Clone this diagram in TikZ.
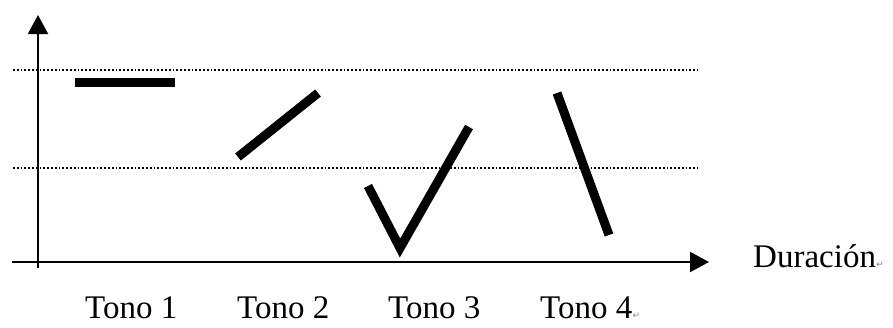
\documentclass[tikz,border=0pt]{standalone}
\usepackage{fontspec}
\setmainfont{Liberation Serif}
\newfontfamily\symfont{DejaVu Sans}
\usetikzlibrary{arrows.meta}
\begin{document}
\begin{tikzpicture}[x=1pt,y=-1pt,
  axis/.style={line width=2.2pt,-{Triangle[length=19pt,width=20pt]}},
  guide/.style={line width=1.8pt,dash pattern=on 1.8pt off 2pt},
  tone/.style={line width=9pt,line cap=butt,line join=miter},
  lbl/.style={font=\fontsize{33}{36}\selectfont,inner sep=0pt,anchor=base west},
  pmark/.style={font=\symfont\fontsize{9}{10}\selectfont,text=gray,inner sep=0pt,anchor=base west}]
\useasboundingbox (0,0) rectangle (893,327);
% guides
\coordinate (g1a) at (13,70);  \coordinate (g1b) at (698,70);
\coordinate (g2a) at (13,168); \coordinate (g2b) at (698,168);
\draw[guide] (g1a) -- (g1b);
\draw[guide] (g2a) -- (g2b);
% axes
\coordinate (ybot) at (38,268); \coordinate (ytop) at (38,15);
\coordinate (xl) at (12,262);   \coordinate (xr) at (709,262);
\draw[axis] (ybot) -- (ytop);
\draw[axis] (xl) -- (xr);
% tones
\coordinate (t1a) at (75,82);   \coordinate (t1b) at (175,82);
\coordinate (t2a) at (238,157); \coordinate (t2b) at (318,93);
\coordinate (t3a) at (368,186); \coordinate (t3m) at (400,248); \coordinate (t3b) at (469,127);
\coordinate (t4a) at (557,93);  \coordinate (t4b) at (609,235);
\draw[tone] (t1a) -- (t1b);
\draw[tone] (t2a) -- (t2b);
\draw[tone] (t3a) -- (t3m) -- (t3b);
\draw[tone] (t4a) -- (t4b);
% labels
\node[lbl] (dur) at (753,267) {Duración};
\node[pmark] (pm1) at (dur.base east) {↵};
\node[lbl] (l1) at (85,318) {Tono 1};
\node[lbl] (l2) at (237,318) {Tono 2};
\node[lbl] (l3) at (388,318) {Tono 3};
\node[lbl] (l4) at (540,318) {Tono 4};
\node[pmark] (pm2) at (l4.base east) {↵};
\end{tikzpicture}
\end{document}
